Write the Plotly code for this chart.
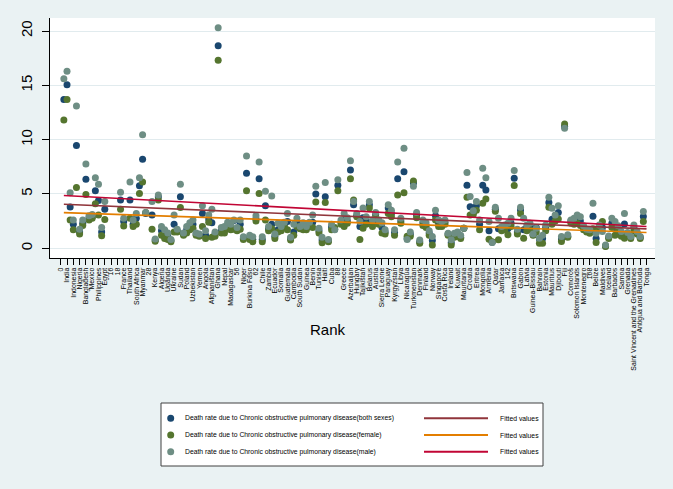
import plotly.graph_objects as go

# ---------------- data ----------------
tick_labels = [
    "0", "India", "Indonesia", "Nigeria", "Bangladesh", "Mexico", "Philippines", "Egypt", "16", "18",
    "France", "Thailand", "South Africa", "Myanmar", "28", "Kenya", "Algeria", "Uganda", "Ukraine", "Sudan",
    "Poland", "Uzbekistan", "Yemen", "Angola", "Afghanistan", "Ghana", "Nepal", "Madagascar", "56", "Niger",
    "Burkina Faso", "62", "Chile", "Zambia", "Ecuador", "Somalia", "Guatemala", "Cambodia", "South Sudan", "Guinea",
    "Benin", "Tunisia", "Haiti", "Cuba", "88", "Greece", "Azerbaijan", "Hungary", "Tajikistan", "Belarus",
    "Austria", "Sierra Leone", "Paraguay", "Kyrgyzstan", "Libya", "Nicaragua", "Turkmenistan", "Denmark", "Finland", "Norway",
    "Singapore", "Costa Rica", "Ireland", "Kuwait", "Mauritania", "Croatia", "Eritrea", "Mongolia", "Armenia", "Qatar",
    "Jamaica", "142", "Botswana", "Gabon", "Latvia", "Guinea-Bissau", "Bahrain", "Estonia", "Mauritius", "Djibouti",
    "Fiji", "Comoros", "Solomon Islands", "Montenegro", "168", "Belize", "Maldives", "Iceland", "Barbados", "Samoa",
    "Grenada", "Saint Vincent and the Grenadines", "Antigua and Barbuda", "Tonga",
]
tick_values = list(range(0, 2 * len(tick_labels), 2))

rank = list(range(1, 186))

male = [15.6, 16.3, 5.1, 2.6, 13.1, 1.75, 2.6, 7.75, 3.0, 3.1,
        6.5, 5.9, 1.9, 4.3, None, None, None, None, 5.15, 2.75,
        None, 6.1, 2.6, 3.2, 6.5, 10.45, 3.3, None, 4.3, 0.85,
        4.9, 2.0, 1.7, 1.4, 0.8, 3.05, 1.75, 5.9, 1.4, 2.0,
        2.35, 2.6, 1.4, 1.3, 3.9, 1.6, 3.05, 3.6, 1.5, 20.3,
        1.9, 2.0, 2.4, 2.2, 2.6, 1.9, 2.6, 1.05, 8.5, 1.2,
        1.05, 3.0, 7.95, 1.05, 5.25, 2.0, 4.8, 1.3, 2.3, 2.0,
        2.4, 3.2, 1.0, 2.2, 2.75, 2.0, 2.35, 2.0, 2.4, 3.05,
        5.7, 1.85, 1.0, 6.05, 0.8, 2.2, 1.7, 6.3, 2.6, 3.2,
        2.8, 8.05, 4.3, 3.2, 2.45, 3.7, 2.9, 4.3, 2.6, 3.3,
        2.6, 2.35, 1.7, 4.0, 3.5, 1.7, 7.95, 2.75, 9.2, 0.8,
        1.5, 5.7, 3.3, 0.75, 2.6, 2.35, 1.6, 1.07, 3.5, 2.6,
        2.45, 2.6, 1.38, 0.77, 1.38, 1.5, 1.2, 1.85, 6.97, 4.76,
        3.46, 4.3, 2.6, 7.37, 6.5, 2.45, 0.52, 3.77, 2.76, 2.0,
        2.15, 2.3, 2.76, 7.15, 1.75, 3.77, 2.76, 2.15, 2.3, 1.32,
        1.85, 0.92, 1.2, 2.15, 4.7, 3.68, 3.07, 3.9, 1.07, 11.05,
        1.23, 2.6, 2.76, 3.07, 2.9, 2.06, 1.75, 1.7, 4.14, 1.38,
        2.15, 1.53, 0.3, 1.13, 2.76, 2.45, 2.06, 1.53, 3.2, 1.44,
        1.07, 2.15, 1.53, 1.07, 3.38]

both = [13.7, 15.05, 3.8, 2.2, 9.45, 1.5, 2.3, 6.35, 2.8, 2.9,
        5.3, 4.4, 1.5, 3.6, None, None, None, None, 4.45, 2.45,
        None, 4.45, 2.2, 2.75, 5.75, 8.2, 3.2, None, 3.05, 0.75,
        4.75, 1.6, 1.3, 1.1, 0.7, 2.2, 1.6, 4.75, 1.3, 1.7,
        2.0, 2.2, 1.3, 1.2, 3.2, 1.2, 2.7, 2.35, 1.3, 18.65,
        1.6, 1.75, 2.1, 2.0, 2.55, 1.75, 2.2, 0.9, 6.9, 1.0,
        0.8, 2.7, 6.4, 0.8, 3.9, 1.8, 2.2, 1.1, 1.7, 1.8,
        2.2, 2.45, 0.9, 1.5, 2.3, 1.9, 2.0, 1.85, 2.2, 2.4,
        5.0, 1.6, 0.75, 4.75, 0.7, 1.95, 1.75, 5.8, 2.4, 2.6,
        2.5, 7.2, 4.0, 3.0, 2.0, 2.8, 2.5, 4.0, 2.3, 3.1,
        2.4, 1.9, 1.5, 3.7, 3.2, 1.45, 6.4, 2.5, 7.05, 0.9,
        1.3, 6.0, 3.05, 0.6, 2.35, 2.1, 1.4, 0.7, 3.0, 2.3,
        2.2, 2.4, 1.3, 0.5, 1.2, 1.3, 1.0, 1.85, 5.8, 3.83,
        3.3, 3.9, 2.2, 5.8, 5.37, 1.6, 0.55, 3.6, 1.8, 1.8,
        1.9, 1.8, 2.3, 6.45, 1.5, 3.53, 1.7, 1.9, 2.0, 1.25,
        1.9, 0.85, 0.9, 1.9, 4.2, 2.67, 2.8, 3.3, 0.85, 11.2,
        1.1, 2.5, 2.5, 2.7, 2.5, 1.9, 1.6, 1.5, 2.95, 0.9,
        2.0, 1.9, 0.2, 1.0, 2.3, 1.9, 1.9, 1.3, 2.24, 1.3,
        1.0, 1.9, 1.4, 1.0, 2.92]

female = [11.8, 13.7, 2.6, 1.7, 5.6, 1.3, 2.1, 4.95, 2.6, 2.75,
          4.1, 3.05, 1.15, 2.65, None, None, None, None, 3.6, 2.05,
          None, 2.75, 2.0, 2.2, 5.05, 6.1, 3.3, None, 1.75, 0.65,
          4.45, 1.2, 0.9, 0.8, 0.6, 1.5, 1.5, 3.75, 1.2, 1.4,
          1.7, 1.85, 1.2, 1.1, 2.0, 0.9, 2.4, 1.0, 1.1, 17.3,
          1.4, 1.4, 1.8, 1.7, 1.75, 1.6, 1.75, 0.8, 5.3, 0.8,
          0.6, 2.5, 5.05, 0.6, 2.6, 1.6, 1.8, 0.9, 1.5, 1.6,
          2.0, 1.7, 0.75, 1.2, 2.0, 1.8, 1.7, 1.7, 2.0, 1.9,
          4.25, 1.4, 0.5, 4.2, 0.6, 1.7, 1.9, 5.3, 2.2, 2.0,
          2.3, 6.4, 4.45, 2.9, 0.8, 1.85, 2.2, 3.7, 2.0, 2.9,
          2.2, 1.4, 1.3, 3.2, 2.9, 1.2, 4.9, 2.3, 5.1, 1.1,
          1.1, 6.2, 2.8, 0.45, 2.1, 1.9, 1.2, 0.3, 2.6, 2.0,
          2.0, 2.2, 1.2, 0.3, 1.0, 1.1, 0.9, 1.85, 4.7, 3.07,
          3.1, 3.5, 1.7, 4.14, 4.54, 0.83, 0.6, 3.4, 0.77, 1.6,
          1.7, 1.23, 2.0, 5.77, 1.3, 3.2, 0.92, 1.6, 1.7, 1.2,
          1.5, 0.46, 0.46, 1.6, 3.77, 2.2, 2.5, 2.7, 0.61, 11.45,
          1.0, 2.3, 2.2, 2.3, 2.1, 1.7, 1.5, 1.38, 1.8, 0.52,
          1.8, 2.45, 0.15, 0.9, 1.9, 1.2, 1.7, 1.1, 0.92, 1.2,
          0.9, 1.6, 1.3, 0.9, 2.46]

# fitted values (linear fits) at the first and last rank
fit_rank = [1, 186]
fit_both = [4.05, 1.78]
fit_female = [3.28, 1.45]
fit_male = [4.85, 2.0]

series_names = [
    "Death rate due to Chronic obstructive pulmonary disease(both sexes)",
    "Death rate due to Chronic obstructive pulmonary disease(female)",
    "Death rate due to Chronic obstructive pulmonary disease(male)",
]
fit_label = "Fitted values"

# ---------------- styles ----------------
marker_colors = ["#1a476f", "#55752f", "#6e8e84"]
fit_colors = ["#90353b", "#e37e00", "#c10534"]
bg = "#eaf2f3"
FONT = "Arial, Liberation Sans, sans-serif"

W, H = 673, 489
PL, PR, PT, PB = 50, 655, 18, 258   # plot area in pixels


def px(x):
    return (x - PL) / (PR - PL)


def py(y):
    return (PB - y) / (PB - PT)


fig = go.Figure()

all_series = [both, female, male]
for vals, name, col in zip(all_series, series_names, marker_colors):
    fig.add_trace(go.Scatter(
        x=rank, y=vals, mode="markers", name=name, showlegend=False,
        marker=dict(color=col, size=7, line=dict(width=0)),
    ))

for fv, col in zip([fit_both, fit_female, fit_male], fit_colors):
    fig.add_trace(go.Scatter(
        x=fit_rank, y=fv, mode="lines", name=fit_label,
        showlegend=False, line=dict(color=col, width=1.6),
    ))

# ---------------- manual legend ----------------
shapes = []
annotations = []
shapes.append(dict(type="rect", xref="paper", yref="paper",
                   x0=px(161), x1=px(543), y0=py(403), y1=py(466),
                   fillcolor="white", line=dict(color="#404040", width=1), layer="below"))
rows_y = [418.3, 435.0, 451.7]
for i in range(3):
    yy = py(rows_y[i])
    shapes.append(dict(type="circle", xref="paper", yref="paper",
                       xsizemode="pixel", ysizemode="pixel",
                       xanchor=px(170.7), yanchor=yy,
                       x0=-3.5, x1=3.5, y0=-3.5, y1=3.5,
                       fillcolor=marker_colors[i], line=dict(width=0)))
    annotations.append(dict(xref="paper", yref="paper", x=px(183), y=yy,
                            text=series_names[i], showarrow=False,
                            xanchor="left", yanchor="middle",
                            font=dict(family=FONT, size=6.8, color="black")))
    shapes.append(dict(type="line", xref="paper", yref="paper",
                       x0=px(424), x1=px(488), y0=yy, y1=yy,
                       line=dict(color=fit_colors[i], width=2)))
    annotations.append(dict(xref="paper", yref="paper", x=px(498), y=yy,
                            text=fit_label, showarrow=False,
                            xanchor="left", yanchor="middle",
                            font=dict(family=FONT, size=6.8, color="black")))

annotations.append(dict(xref="paper", yref="paper", x=px(328), y=py(329),
                        text="Rank", showarrow=False, xanchor="center", yanchor="middle",
                        font=dict(family=FONT, size=15, color="black")))

fig.update_layout(
    width=W, height=H,
    margin=dict(l=PL, r=W - PR, t=PT, b=H - PB, pad=0),
    paper_bgcolor=bg, plot_bgcolor="white",
    font=dict(family=FONT, color="black"),
    shapes=shapes, annotations=annotations,
    showlegend=False,
)
fig.update_xaxes(
    range=[-3.4, 188.7], tickmode="array", tickvals=tick_values, ticktext=tick_labels,
    tickangle=-90, tickfont=dict(family=FONT, size=6.9, color="black"),
    ticks="outside", ticklen=6, tickcolor="black", tickwidth=1,
    showline=True, linecolor="black", linewidth=1, showgrid=False, zeroline=False,
)
fig.update_yaxes(
    range=[-0.9, 21.2], tickmode="array", tickvals=[0, 5, 10, 15, 20],
    tickangle=-90, tickfont=dict(family=FONT, size=15, color="black"),
    ticks="outside", ticklen=7, tickcolor="black", tickwidth=1,
    showline=True, linecolor="black", linewidth=1,
    showgrid=True, gridcolor="#e1ebee", gridwidth=1, zeroline=False,
    ticklabelstandoff=4,
)

fig.write_html("out.html")
